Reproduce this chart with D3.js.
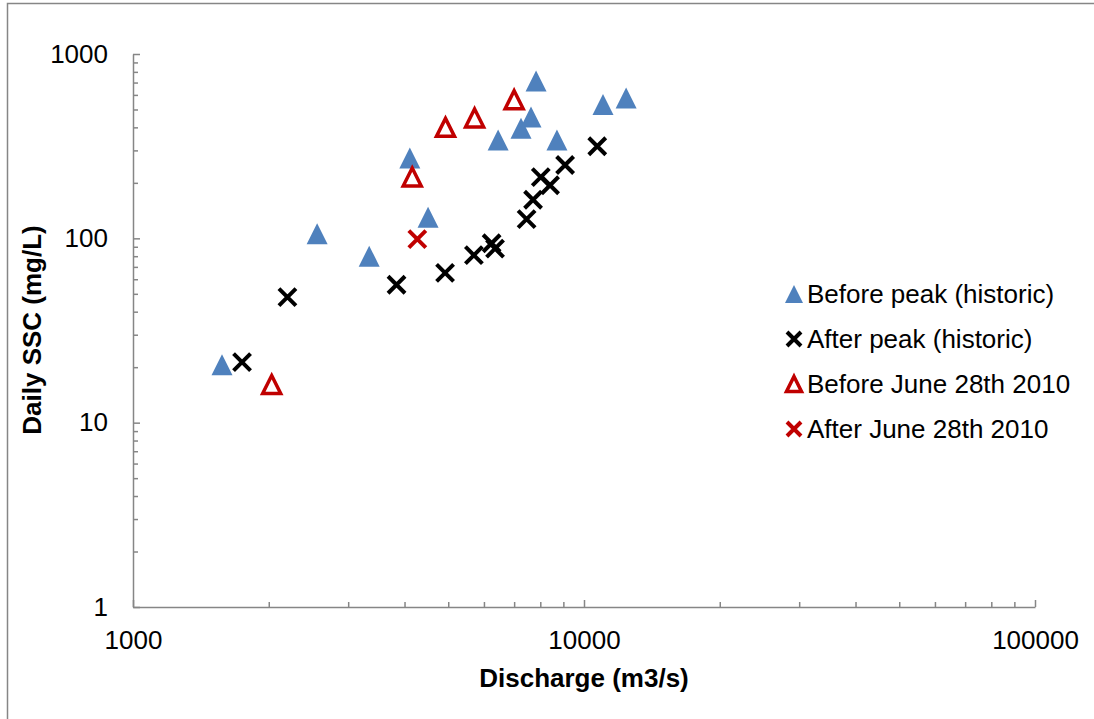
<!doctype html>
<html>
  <head>
    <meta charset="utf-8">
    <title>Daily SSC vs discharge</title>
    <script src="https://d3js.org/d3.v7.min.js"></script>
    <style type="text/css">
      body {
        margin: 0;
        background: #fff;
      }
      text {
        font-family: "Liberation Sans", Arial, sans-serif;
        fill: #000;
      }
      .tick text {
        font-size: 26px;
      }
      .axis-title {
        font-size: 26px;
        font-weight: bold;
      }
      .legend text {
        font-size: 26px;
      }
    </style>
  </head>
  <body>
    <svg></svg>
    <script type="text/javascript">
      var w = 1094,
        h = 719;

      // Discharge (m3/s) and daily SSC (mg/L)
      var beforePeakQ = [1575, 2560, 3340, 4110, 4510, 6450, 7250, 7630, 7830, 8710, 11020, 12400];
      var beforePeakSSC = [20.6, 106, 80, 273, 130, 342, 395, 455, 714, 342, 532, 577];

      var afterPeakQ = [1745, 2200, 3840, 4920, 5700, 6240, 6350, 7460, 7710, 8020, 8410, 9080, 10700];
      var afterPeakSSC = [21.3, 48, 56, 65, 81, 94, 88, 127, 162, 215, 194, 250, 316];

      var before2010Q = [2030, 4160, 4930, 5720, 7000];
      var before2010SSC = [16.1, 215, 400, 450, 565];

      var after2010Q = [4270];
      var after2010SSC = [99];

      var xTicks = [1000, 10000, 100000];
      var yTicks = [1, 10, 100, 1000];

      var seriesNames = ['Before peak (historic)', 'After peak (historic)',
        'Before June 28th 2010', 'After June 28th 2010'];

      var blue = '#4F81BD',
        red = '#C00000',
        axisColor = '#868686';

      var svg = d3.select('svg')
        .attr('width', w)
        .attr('height', h);

      // chart area border (only left and top edges are in view)
      svg.append('rect')
        .attr('x', 7.5)
        .attr('y', 3.5)
        .attr('width', 1200)
        .attr('height', 800)
        .attr('fill', 'none')
        .attr('stroke', axisColor)
        .attr('stroke-width', 1.5);

      var x = d3.scaleLog()
        .domain([1000, 100000])
        .range([133, 1035]);
      var y = d3.scaleLog()
        .domain([1, 1000])
        .range([607, 54]);

      function minors(majors) {
        var out = [];
        for (var i = 0; i < majors.length - 1; i++) {
          for (var k = 2; k <= 9; k++) out.push(majors[i] * k);
        }
        return out;
      }

      // minor ticks
      svg.append('g')
        .attr('transform', 'translate(0,' + y.range()[0] + ')')
        .call(d3.axisBottom(x).tickValues(minors(xTicks)).tickSize(-5).tickFormat(''))
        .call(function(g) { g.select('.domain').remove(); });
      svg.append('g')
        .attr('transform', 'translate(' + x.range()[0] + ',0)')
        .call(d3.axisLeft(y).tickValues(minors(yTicks)).tickSize(-5).tickFormat(''))
        .call(function(g) { g.select('.domain').remove(); });

      // major ticks with labels
      var xAxis = svg.append('g')
        .attr('transform', 'translate(0,' + y.range()[0] + ')')
        .call(d3.axisBottom(x).tickValues(xTicks).tickSize(-7).tickSizeOuter(0)
          .tickPadding(24).tickFormat(d3.format('d')));
      var yAxis = svg.append('g')
        .attr('transform', 'translate(' + x.range()[0] + ',0)')
        .call(d3.axisLeft(y).tickValues(yTicks).tickSize(-7).tickSizeOuter(0)
          .tickPadding(25).tickFormat(d3.format('d')));

      svg.selectAll('.domain, .tick line')
        .attr('stroke', axisColor)
        .attr('stroke-width', 1.5);
      svg.selectAll('.tick text').attr('fill', '#000');

      // axis titles
      svg.append('text')
        .attr('class', 'axis-title')
        .attr('x', 584)
        .attr('y', 687)
        .attr('text-anchor', 'middle')
        .text('Discharge (m3/s)');
      svg.append('text')
        .attr('class', 'axis-title')
        .attr('transform', 'translate(41,330) rotate(-90)')
        .attr('text-anchor', 'middle')
        .text('Daily SSC (mg/L)');

      function triPath(s) {
        return 'M0,' + (-s / 2) + 'L' + (s / 2) + ',' + (s / 2) + 'L' + (-s / 2) + ',' + (s / 2) + 'Z';
      }

      function crossPath(s) {
        var r = s / 2;
        return 'M' + (-r) + ',' + (-r) + 'L' + r + ',' + r + 'M' + r + ',' + (-r) + 'L' + (-r) + ',' + r;
      }

      // marker drawers: filled triangle, cross, open triangle
      function drawFilledTri(sel, s) {
        sel.attr('d', triPath(s)).attr('fill', blue).attr('stroke', 'none');
      }
      function drawCross(sel, s, color) {
        sel.attr('d', crossPath(s)).attr('fill', 'none')
          .attr('stroke', color).attr('stroke-width', 4);
      }
      function drawOpenTri(sel, s) {
        sel.attr('d', triPath(s - 3)).attr('fill', 'none')
          .attr('stroke', red).attr('stroke-width', 3.5);
      }

      function zip(a, b) {
        return a.map(function(d, i) { return [d, b[i]]; });
      }

      var plot = svg.append('g');

      plot.selectAll('path.bp')
        .data(zip(beforePeakQ, beforePeakSSC))
        .enter().append('path')
        .attr('class', 'bp')
        .attr('transform', function(d) { return 'translate(' + x(d[0]) + ',' + y(d[1]) + ')'; })
        .call(drawFilledTri, 21);

      plot.selectAll('path.ap')
        .data(zip(afterPeakQ, afterPeakSSC))
        .enter().append('path')
        .attr('class', 'ap')
        .attr('transform', function(d) { return 'translate(' + x(d[0]) + ',' + y(d[1]) + ')'; })
        .call(drawCross, 17, '#000');

      plot.selectAll('path.b10')
        .data(zip(before2010Q, before2010SSC))
        .enter().append('path')
        .attr('class', 'b10')
        .attr('transform', function(d) { return 'translate(' + x(d[0]) + ',' + y(d[1]) + ')'; })
        .call(drawOpenTri, 21);

      plot.selectAll('path.a10')
        .data(zip(after2010Q, after2010SSC))
        .enter().append('path')
        .attr('class', 'a10')
        .attr('transform', function(d) { return 'translate(' + x(d[0]) + ',' + y(d[1]) + ')'; })
        .call(drawCross, 17, red);

      // legend
      var legend = svg.append('g').attr('class', 'legend');
      var rows = legend.selectAll('g')
        .data(seriesNames)
        .enter().append('g')
        .attr('transform', function(d, i) { return 'translate(794,' + (294 + i * 45) + ')'; });

      rows.each(function(d, i) {
        var m = d3.select(this).append('path');
        if (i === 0) m.call(drawFilledTri, 18);
        if (i === 1) m.call(drawCross, 14, '#000');
        if (i === 2) m.call(drawOpenTri, 18);
        if (i === 3) m.call(drawCross, 14, red);
      });

      rows.append('text')
        .attr('x', 13)
        .attr('y', 9)
        .text(function(d) { return d; });
    </script>
  </body>
</html>
